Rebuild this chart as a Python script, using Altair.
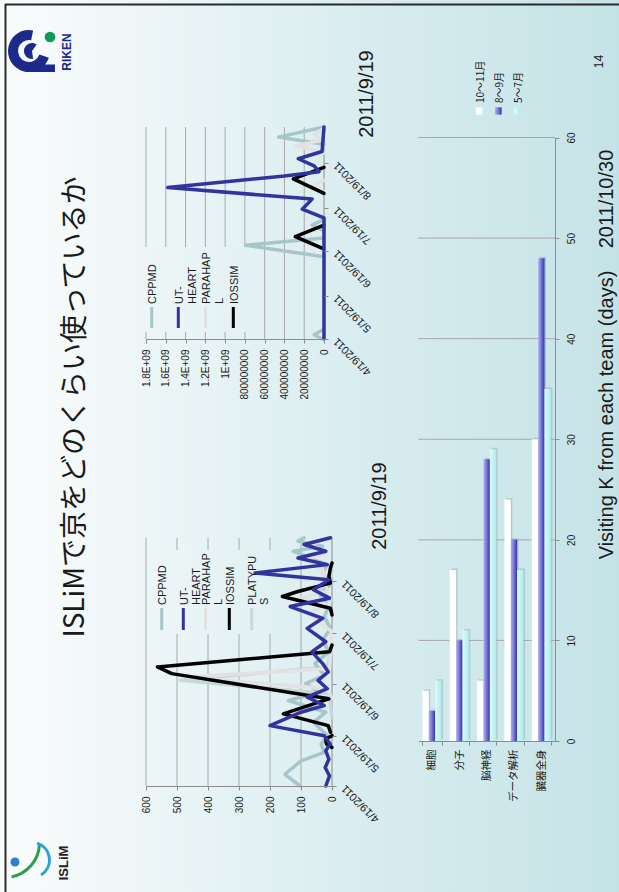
import altair as alt
import pandas as pd

# ------------------------------------------------------------------ data
# visiting days per team (bar chart, 2011/10/30)
teams = ["細胞", "分子", "脳神経", "データ解析", "臓器全身"]
periods = ["10～11月", "8～9月", "5～7月"]
days_oct_nov = [5, 17, 6, 24, 30]
days_aug_sep = [3, 10, 28, 20, 48]
days_may_jul = [6, 11, 29, 17, 35]

# usage per day up to 2011/9/19, panel scaled 0-600 (dates are 2011 MM-DD, None = line break)
left_cppmd_dates = ["04-19", "04-26", "05-04", "05-09", "05-14", "05-19", "05-27", "06-02", "06-09",
                    "06-14", "06-19", "06-24", "07-01", "07-08", "07-15", "07-22", "07-29", "08-04",
                    "08-11", "08-17", "08-24", "08-29", "09-01", "09-06", "09-09", "09-12", "09-14"]
left_cppmd = [103, 152, 100, 25, 35, 15, 60, 20, 140, 40, 85, 25, 55, 10, 30, 5, 25, 10,
              40, 5, 30, 15, 60, 125, 30, 110, 90]

left_platypus_dates = ["05-30", "06-13", "06-21", "06-29", "07-12", None, "08-08", "08-14", "08-20", "08-26"]
left_platypus = [0, 10, 490, 15, 0, None, 0, 40, 5, 0]

left_parahapl_dates = ["06-10", "06-16", "06-23", "06-28", "07-20", "07-31", "08-05", "08-09",
                       "08-13", "08-26", "09-01", "09-05", "09-10", "09-14"]
left_parahapl = [0, 15, 470, 8, 0, 80, 10, 100, 15, 30, 90, 15, 70, 10]

left_iossim_dates = ["05-12", "05-14", "05-17", "05-19", None,
                     "05-21", "05-25", "06-01", "06-10", "06-25", "06-29", "07-08", "07-12", None,
                     "07-30", "08-03", "08-10", "08-13", "08-18", "08-22", "08-27", "08-30"]
left_iossim = [0, 18, 20, 0, None,
               5, 12, 157, 10, 517, 563, 8, 0, None,
               0, 5, 160, 110, 5, 10, 5, 0]

left_utheart_dates = ["04-19", "04-25", "04-30", "05-05", "05-10", "05-14", "05-19", "05-25", "06-02",
                      "06-06", "06-11", "06-16", "06-21", "06-26", "07-01", "07-08", "07-14", "07-22",
                      "07-28", "08-04", "08-09", "08-14", "08-20", "08-24", "08-29", "09-02", "09-06",
                      "09-10", "09-14"]
left_utheart = [20, 8, 22, 10, 20, 6, 25, 200, 100, 25, 80, 15, 45, 12, 30, 65, 20, 80,
                30, 135, 8, 60, 10, 248, 15, 110, 20, 90, 5]

# usage per day up to 2011/9/19, panel scaled 0-1.8E+09 (None = no record, line breaks)
right_cppmd_dates = ["04-19", "04-22", "04-26", None, "06-15", "06-23", "06-28", None,
                     "07-03", "07-07", "07-11", None, "09-01", "09-06", "09-13"]
right_cppmd = [20000000, 100000000, 0, None, 0, 790000000, 0, None,
               0, 120000000, 0, None, 0, 460000000, 0]

right_parahapl_dates = ["07-30", "08-03", "08-07", None, "08-26", "08-31", "09-04", "09-08", "09-12"]
right_parahapl = [0, 120000000, 0, None, 0, 280000000, 20000000, 100000000, 0]

right_iossim_dates = ["06-21", "06-29", "07-07", None, "07-29", "08-08", "08-16"]
right_iossim = [20000000, 290000000, 0, None, 0, 310000000, 0]

right_utheart_dates = ["04-19", "07-12", "07-18", "07-25", "08-02", "08-10", "08-13", "08-17",
                       "08-22", "08-27", "09-13"]
right_utheart = [0, 0, 220000000, 120000000, 1580000000, 400000000, 50000000, 100000000,
                 260000000, 20000000, 0]

left_value_ticks = [0, 100, 200, 300, 400, 500, 600]
right_value_ticks = [0, 200000000, 400000000, 600000000, 800000000, 1000000000,
                     1200000000, 1400000000, 1600000000, 1800000000]
bar_value_ticks = [0, 10, 20, 30, 40, 50, 60]
date_tick_months = [4, 5, 6, 7, 8]

# ------------------------------------------------------------------ style
W, H = 619, 892
LATIN = "Liberation Sans"
CJK = "Noto Sans CJK JP"
TXT = "#1a1a1a"
AX = "#8c8c8c"
GRID = "#a8a8a8"
C_CPPMD = "#a7c6ca"
C_UT = "#3333a0"
C_PARA = "#e2e2e2"
C_IOS = "#000000"
C_PLAT = "#c6d8da"

BG_STOPS = [(0.0, "#fafcfc"), (0.15, "#f2f8f9"), (0.6, "#d8ecef"), (1.0, "#c5e3e7")]


def _hex(c):
    return [int(c[i:i + 2], 16) for i in (1, 3, 5)]


def bg_at(px):
    """Colour of the page gradient at horizontal pixel px."""
    t = px / W
    for (o0, c0), (o1, c1) in zip(BG_STOPS, BG_STOPS[1:]):
        if o0 <= t <= o1:
            f = (t - o0) / (o1 - o0)
            a, b = _hex(c0), _hex(c1)
            return "#" + "".join(f"{round(a[k] + (b[k] - a[k]) * f):02x}" for k in range(3))
    return BG_STOPS[-1][1]


def hgrad(c0, c1, mid=None):
    stops = [alt.GradientStop(color=c0, offset=0)]
    if mid:
        stops.append(alt.GradientStop(color=mid, offset=0.5))
    stops.append(alt.GradientStop(color=c1, offset=1))
    return alt.LinearGradient(gradient="linear", stops=stops, x1=0, x2=1, y1=0, y2=0)


ONE = pd.DataFrame({"k": [0]})


def dt(m, d):
    return alt.DateTime(year=2011, month=m, date=d)


def label(text, x, y, size, font=LATIN, angle=270, weight="normal", color=TXT,
          align="center", baseline="middle", line_height=0):
    mk = dict(angle=angle, fontSize=size, font=font, fontWeight=weight, color=color,
              align=align, baseline=baseline)
    if line_height:
        mk.update(lineBreak="\n", lineHeight=line_height)
    return alt.Chart(pd.DataFrame({"t": [text]})).mark_text(**mk).encode(
        x=alt.value(x), y=alt.value(y), text="t:N")


def box(x0, x1, y0, y1, fill):
    return alt.Chart(ONE).mark_rect(fill=fill, strokeWidth=0).encode(
        x=alt.value(x0), x2=alt.value(x1), y=alt.value(y0), y2=alt.value(y1))


def vrule(x, y0, y1, color, width=1):
    return alt.Chart(ONE).mark_rule(color=color, strokeWidth=width).encode(
        x=alt.value(x), y=alt.value(y0), y2=alt.value(y1))


def line_layer(dates, vals, color, xs, ys, axes=None, width=3.5):
    rows, seg = [], 0
    for i, (d, v) in enumerate(zip(dates, vals)):
        if v is None:
            seg += 1
            continue
        rows.append({"date": f"2011-{d}T00:00:00", "v": v, "seg": seg, "i": i})
    xa, ya = axes if axes else (None, None)
    return alt.Chart(pd.DataFrame(rows)).mark_line(
        color=color, strokeWidth=width, strokeJoin="round", strokeCap="round"
    ).encode(
        x=alt.X("v:Q", scale=xs, axis=xa),
        y=alt.Y("date:T", scale=ys, axis=ya),
        detail="seg:N",
        order="i:Q",
    )


def value_axis(y_pos, values, expr=None):
    kw = dict(orient="bottom", offset=y_pos - H, values=values, grid=False, labelAngle=270,
              labelAlign="right", labelBaseline="middle", labelFont=LATIN, labelFontSize=10,
              labelColor=TXT, labelPadding=6, tickSize=4, tickColor=AX, domainColor=AX,
              labelFlush=False, labelOverlap=False, title=None, zindex=1)
    if expr:
        kw["labelExpr"] = expr
    return alt.Axis(**kw)


def date_axis(x_pos):
    return alt.Axis(orient="right", offset=x_pos - W, values=[dt(m, 19) for m in date_tick_months],
                    format="%-m/%-d/%Y", grid=False, labelAngle=225, labelAlign="right",
                    labelBaseline="middle", labelFont=LATIN, labelFontSize=11, labelColor=TXT,
                    labelPadding=7, tickSize=4, tickColor=AX, domain=False,
                    labelFlush=False, labelOverlap=False, title=None, zindex=1)


def value_grid(ticks, xs, y_top, y_bot):
    return alt.Chart(pd.DataFrame({"t": ticks})).mark_rule(color=GRID, strokeWidth=1).encode(
        x=alt.X("t:Q", scale=xs, axis=None), y=alt.value(y_top), y2=alt.value(y_bot))


def line_legend(entries, text_y, sym_y0, sym_y1, lh):
    out = []
    for name, color, cx in entries:
        out.append(vrule(cx, sym_y0, sym_y1, color, 3))
        out.append(label(name, cx - 4.8, text_y, 11, align="left", baseline="top",
                         line_height=lh))
    return out


PAGE_BG = alt.LinearGradient(
    gradient="linear",
    stops=[alt.GradientStop(color=c, offset=o) for o, c in BG_STOPS],
    x1=0, x2=1, y1=0, y2=0)

layers = [box(0, W, 0, H, PAGE_BG)]

# ------------------------------------------------------------------ usage panel 0-600
L_X = alt.Scale(domain=[0, 600], range=[332, 146], nice=False, zero=False)
L_Y = alt.Scale(domain=[dt(4, 19), dt(9, 14)], range=[786, 537.8], nice=False)
layers.append(value_grid(left_value_ticks[1:], L_X, 537.8, 786))
layers.append(vrule(332, 537.8, 786, AX))
layers.append(box(148, 276, 550, 634, hgrad(bg_at(148), bg_at(276))))
layers.append(line_layer(left_platypus_dates, left_platypus, C_PLAT, L_X, L_Y,
                         axes=(value_axis(786, left_value_ticks), date_axis(332))))
layers.append(line_layer(left_cppmd_dates, left_cppmd, C_CPPMD, L_X, L_Y))
layers.append(line_layer(left_parahapl_dates, left_parahapl, C_PARA, L_X, L_Y))
layers.append(line_layer(left_iossim_dates, left_iossim, C_IOS, L_X, L_Y))
layers.append(line_layer(left_utheart_dates, left_utheart, C_UT, L_X, L_Y))
layers += line_legend([("CPPMD", C_CPPMD, 161.7), ("UT-\nHEART", C_UT, 183.3),
                       ("PARAHAP\nL", C_PARA, 205.5), ("IOSSIM", C_IOS, 229.3),
                       ("PLATYPU\nS", C_PLAT, 251.7)], 605, 608, 630, 12)

# ------------------------------------------------------------------ usage panel 0-1.8E+09
R_X = alt.Scale(domain=[0, 1800000000], range=[324, 146], nice=False, zero=False)
R_Y = alt.Scale(domain=[dt(4, 19), dt(9, 13)], range=[339, 127], nice=False)
E9 = "datum.value >= 1e9 ? format(datum.value / 1e9, '.1~f') + 'E+09' : format(datum.value, 'd')"
layers.append(value_grid(right_value_ticks[1:], R_X, 127, 339))
layers.append(vrule(324, 127, 339, AX))
layers.append(box(140, 250, 247, 332, hgrad(bg_at(140), bg_at(250))))
layers.append(line_layer(right_cppmd_dates, right_cppmd, C_CPPMD, R_X, R_Y,
                         axes=(value_axis(339, right_value_ticks, E9), date_axis(324))))
layers.append(line_layer(right_parahapl_dates, right_parahapl, C_PARA, R_X, R_Y))
layers.append(line_layer(right_iossim_dates, right_iossim, C_IOS, R_X, R_Y))
layers.append(line_layer(right_utheart_dates, right_utheart, C_UT, R_X, R_Y))
layers += line_legend([("CPPMD", C_CPPMD, 151.7), ("UT-\nHEART", C_UT, 178.3),
                       ("PARAHAP\nL", C_PARA, 205.5), ("IOSSIM", C_IOS, 233.3)],
                      304, 307, 328, 13.5)

# ------------------------------------------------------------------ visiting days bars
B_X = alt.Scale(domain=teams, range=[418.3, 555], paddingInner=0.3, paddingOuter=0.15)
B_OFF = alt.Scale(domain=periods, range=[0, 19.14])
B_Y = alt.Scale(domain=[0, 60], range=[741, 137.5], nice=False)
# soft drop shadow: same bars, nudged right/up by 1.5 px
B_OFF_SH = alt.Scale(domain=periods, range=[1.5, 20.64])
B_Y_SH = alt.Scale(domain=[0, 60], range=[739.5, 136.0], nice=False)

layers.append(alt.Chart(pd.DataFrame({"t": bar_value_ticks[1:]})).mark_rule(
    color=GRID, strokeWidth=1).encode(
    y=alt.Y("t:Q", scale=B_Y, axis=None), x=alt.value(418.3), x2=alt.value(555)))

cat_axis = alt.Axis(orient="bottom", offset=741 - H, labelAngle=270, labelAlign="right",
                    labelBaseline="middle", labelFont=CJK, labelFontSize=10.5, labelColor=TXT,
                    labelPadding=4, tickSize=4, tickColor=AX, domainColor=AX, tickBand="extent",
                    grid=False, title=None, labelOverlap=False, zindex=1)
bar_axis = alt.Axis(orient="right", offset=555 - W, values=bar_value_ticks, labelAngle=270,
                    labelAlign="center", labelBaseline="top", labelFont=LATIN, labelFontSize=10,
                    labelColor=TXT, labelPadding=7, tickSize=4, tickColor=AX, domainColor=AX,
                    grid=False, title=None, labelFlush=False, labelOverlap=False, zindex=1)

BLUE_FILL = hgrad("#b3b3ec", "#3232ad", "#7474d6")
CYAN_FILL = hgrad("#dcfbfb", "#aeeaee")

bars_all = pd.DataFrame({
    "team": teams * 3,
    "period": [p for p in periods for _ in teams],
    "days": days_oct_nov + days_aug_sep + days_may_jul,
})
layers.append(alt.Chart(bars_all).mark_bar(fill="#8fa9ad", opacity=0.45, strokeWidth=0).encode(
    x=alt.X("team:N", scale=B_X, axis=None),
    xOffset=alt.XOffset("period:N", scale=B_OFF_SH),
    y=alt.Y("days:Q", scale=B_Y_SH, axis=None),
))


def bar_layer(vals, period, fill, axes=None):
    df = pd.DataFrame({"team": teams, "period": [period] * len(teams), "days": vals})
    xa, ya = axes if axes else (None, None)
    return alt.Chart(df).mark_bar(fill=fill, strokeWidth=0).encode(
        x=alt.X("team:N", scale=B_X, axis=xa),
        xOffset=alt.XOffset("period:N", scale=B_OFF),
        y=alt.Y("days:Q", scale=B_Y, axis=ya),
    )


layers.append(bar_layer(days_oct_nov, periods[0], "#ffffff", axes=(cat_axis, bar_axis)))
layers.append(bar_layer(days_aug_sep, periods[1], BLUE_FILL))
layers.append(bar_layer(days_may_jul, periods[2], CYAN_FILL))

# bar legend
for fill, cx, lab in [("#ffffff", 479, periods[0]), (BLUE_FILL, 498.3, periods[1]),
                      (CYAN_FILL, 517.3, periods[2])]:
    layers.append(box(cx - 3.3, cx + 3.3, 107.3, 114.7, fill))
    layers.append(label(lab, cx + 1.5, 103, 10, font=CJK, align="left"))

# ------------------------------------------------------------------ texts
layers.append(label("ISLiMで京をどのくらい使っているか", 76, 407, 28, font=CJK))
layers.append(label("2011/9/19", 367, 94, 20))
layers.append(label("2011/9/19", 380, 506, 20))
layers.append(label("Visiting K from each team (days)", 607, 415, 20))
layers.append(label("2011/10/30", 607, 199, 20))
layers.append(label("14", 599, 61.5, 12))

# ------------------------------------------------------------------ logos
RIKEN_BLUE = "#1c2a8c"


def arc(cx, cy, r_out, r_in, t0, t1, color):
    return alt.Chart(ONE).mark_arc(theta=t0, theta2=t1, radius=r_out, radius2=r_in,
                                   color=color).encode(x=alt.value(cx), y=alt.value(cy))


layers.append(arc(29, 51, 21, 11, 1.9, 6.48, RIKEN_BLUE))
layers.append(box(29, 55, 64.5, 72, RIKEN_BLUE))
layers.append(arc(32, 51, 8, 0, 3.0, 6.9, RIKEN_BLUE))
layers.append(alt.Chart(ONE).mark_circle(size=115, color="#0e9a57", opacity=1).encode(
    x=alt.value(50), y=alt.value(37)))
layers.append(label("RIKEN", 67, 52, 12, weight="bold", color=RIKEN_BLUE))

layers.append(arc(5, 843, 36, 33, 1.62, 2.95, "#2e9e4a"))
layers.append(arc(32, 860, 19, 16, 0.3, 2.6, "#2aa0dc"))
layers.append(alt.Chart(ONE).mark_circle(size=80, color="#2d7fd0", opacity=1).encode(
    x=alt.value(15), y=alt.value(862)))
layers.append(label("ISLiM", 64, 863, 13, weight="bold", color="#222222"))

# ------------------------------------------------------------------ slide frame
layers.append(alt.Chart(ONE).mark_rule(color="#2a2a2a", strokeWidth=2).encode(
    x=alt.value(5), x2=alt.value(W), y=alt.value(4.5)))
layers.append(vrule(5.5, 4, H, "#2a2a2a", 2))

chart = (
    alt.layer(*layers)
    .resolve_scale(x="independent", y="independent", xOffset="independent")
    .properties(width=W, height=H, autosize=alt.AutoSizeParams(type="none"), padding=0)
    .configure_view(strokeWidth=0)
)

chart.save("out.html", embed_options={"renderer": "svg", "actions": False})
